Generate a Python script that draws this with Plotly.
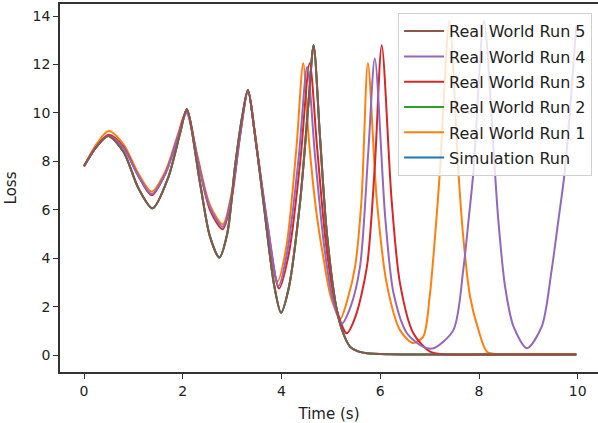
import plotly.graph_objects as go

# Loss curves sampled at the turning points of each run (time in seconds)
sim_time = [0, 0.25, 0.49, 0.8, 1.1, 1.39, 1.7, 1.95, 2.08, 2.35, 2.55, 2.74, 2.9, 3.06, 3.2, 3.32,
            3.45, 3.63, 3.85, 3.99, 4.15, 4.38, 4.55, 4.65, 4.78, 4.92, 5.12, 5.25, 5.39, 5.55,
            5.73, 6.2, 7.0, 8.0, 9.0, 9.97]
sim_loss = [7.8, 8.6, 9.05, 8.4, 6.9, 6.06, 7.3, 9.2, 10.15, 7.1, 4.9, 4.03, 5.0, 7.8, 9.8, 10.95,
            9.3, 6.4, 2.9, 1.75, 2.8, 6.4, 10.5, 12.8, 9.0, 5.0, 1.86, 0.9, 0.34, 0.15,
            0.07, 0.03, 0.02, 0.02, 0.02, 0.02]

run2_time = sim_time
run2_loss = sim_loss

run5_time = sim_time
run5_loss = sim_loss

run1_time = [0, 0.25, 0.5, 0.8, 1.1, 1.37, 1.65, 1.9, 2.07, 2.3, 2.55, 2.81, 3.0, 3.15, 3.32, 3.5,
             3.7, 3.92, 4.1, 4.3, 4.44, 4.55, 4.7, 4.85, 5.0, 5.19, 5.35, 5.49, 5.62, 5.75, 5.93,
             6.13, 6.4, 6.66, 6.87, 7.0, 7.11, 7.21, 7.4, 7.58, 7.68, 7.82, 7.99, 8.16, 8.4, 9.0, 9.97]
run1_loss = [7.8, 8.7, 9.25, 8.7, 7.5, 6.75, 7.6, 9.1, 10.05, 8.2, 6.2, 5.4, 6.8, 9.0, 10.9, 8.6,
             5.5, 3.05, 4.5, 8.5, 12.05, 9.0, 6.0, 4.0, 2.4, 1.5, 2.4, 3.65, 6.4, 12.05, 6.4,
             2.96, 1.03, 0.5, 0.76, 2.4, 4.9, 7.64, 13.8, 7.64, 4.9, 2.4, 1.03, 0.14, 0.03, 0.02, 0.02]

run3_time = [0, 0.25, 0.5, 0.8, 1.1, 1.37, 1.65, 1.9, 2.08, 2.3, 2.55, 2.81, 3.0, 3.15, 3.32, 3.5,
             3.72, 3.95, 4.15, 4.38, 4.57, 4.72, 4.9, 5.1, 5.32, 5.5, 5.73, 5.89, 6.03, 6.23, 6.4,
             6.67, 7.01, 7.3, 8.0, 9.0, 9.97]
run3_loss = [7.8, 8.6, 9.1, 8.6, 7.4, 6.6, 7.5, 9.0, 10.1, 8.1, 6.0, 5.2, 6.6, 8.9, 10.9, 8.5,
             5.3, 2.75, 4.2, 8.0, 12.05, 8.6, 4.6, 2.0, 0.9, 1.6, 3.65, 7.8, 12.8, 6.4, 2.96,
             0.9, 0.14, 0.03, 0.02, 0.02, 0.02]

run4_time = [0, 0.25, 0.5, 0.8, 1.1, 1.37, 1.65, 1.9, 2.08, 2.3, 2.55, 2.81, 3.0, 3.15, 3.32, 3.5,
             3.72, 3.94, 4.12, 4.35, 4.52, 4.68, 4.87, 5.05, 5.22, 5.4, 5.59, 5.76, 5.89, 6.1,
             6.27, 6.54, 6.87, 7.08, 7.48, 7.68, 7.79, 7.89, 8.1, 8.32, 8.39, 8.53, 8.7, 8.97,
             9.27, 9.47, 9.61, 9.74, 9.97]
run4_loss = [7.8, 8.6, 9.05, 8.55, 7.4, 6.65, 7.5, 9.0, 10.0, 8.1, 6.1, 5.3, 6.7, 8.9, 10.9, 8.5,
             5.4, 2.85, 4.3, 8.2, 11.9, 8.2, 4.4, 2.2, 1.3, 2.0, 3.65, 8.47, 12.25, 5.7,
             2.55, 0.9, 0.34, 0.28, 1.03, 3.5, 5.6, 7.64, 13.8, 7.64, 5.6, 2.8, 1.17, 0.28,
             1.17, 3.5, 5.6, 7.64, 13.6]

x_ticks = [0, 2, 4, 6, 8, 10]
y_ticks = [0, 2, 4, 6, 8, 10, 12, 14]

# drawing order: later traces sit on top
series = [
    ("Simulation Run", sim_time, sim_loss, "#1f77b4"),
    ("Real World Run 1", run1_time, run1_loss, "#ff7f0e"),
    ("Real World Run 2", run2_time, run2_loss, "#2ca02c"),
    ("Real World Run 3", run3_time, run3_loss, "#d62728"),
    ("Real World Run 4", run4_time, run4_loss, "#9467bd"),
    ("Real World Run 5", run5_time, run5_loss, "#8c564b"),
]

fig = go.Figure()
for i, (name, t, v, color) in enumerate(series):
    fig.add_trace(go.Scatter(
        x=t, y=v, name=name, mode="lines",
        legendgroup=name, legendrank=len(series) - i,  # last drawn listed first
        line=dict(color=color, width=2, shape="spline", smoothing=0.8),
    ))

font = "DejaVu Sans"
axis_color = "#333333"

fig.update_layout(
    width=598, height=423,
    margin=dict(l=60, r=0, t=4, b=51),
    paper_bgcolor="white", plot_bgcolor="white",
    font=dict(family=font, size=14, color="#222222"),
    showlegend=True,
    legend=dict(
        x=0.989, y=0.975, xanchor="right", yanchor="top",
        traceorder="grouped",
        tracegroupgap=1.5,
        bgcolor="rgba(255,255,255,0.8)",
        bordercolor="#d0d0d0", borderwidth=1,
        font=dict(family=font, size=16, color="#222222"),
        itemwidth=40,
    ),
    xaxis=dict(
        range=[-0.486, 10.41],
        tickmode="array", tickvals=x_ticks,
        ticks="outside", ticklen=5, tickwidth=1.2, tickcolor=axis_color,
        showline=True, linecolor=axis_color, linewidth=1.5, mirror=True,
        showgrid=False, zeroline=False,
        title=dict(text="Time (s)", font=dict(size=15), standoff=14),
        tickfont=dict(size=14),
    ),
    yaxis=dict(
        range=[-0.70, 14.5],
        tickmode="array", tickvals=y_ticks,
        ticks="outside", ticklen=5, tickwidth=1.2, tickcolor=axis_color,
        showline=True, linecolor=axis_color, linewidth=1.5, mirror=False,
        showgrid=False, zeroline=False,
        title=dict(text="Loss", font=dict(size=15), standoff=12),
        tickfont=dict(size=14),
    ),
)

fig.write_html("out.html")
